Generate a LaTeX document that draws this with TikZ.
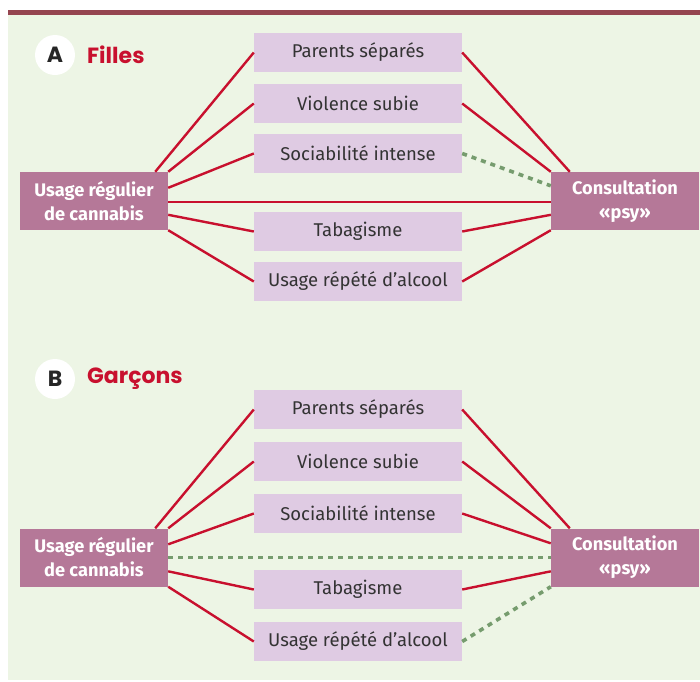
\documentclass[tikz,border=0pt]{standalone}
\usepackage{fontspec}
\setmainfont{Fira Sans}
\newfontfamily\headfont{Poppins}
\definecolor{bgreen}{HTML}{EDF5E5}
\definecolor{barred}{HTML}{954550}
\definecolor{lilac}{HTML}{DFCBE3}
\definecolor{mauve}{HTML}{B57898}
\definecolor{linered}{HTML}{C8102E}
\definecolor{dashgreen}{HTML}{769C6E}
\definecolor{txt}{HTML}{333333}
\definecolor{headred}{HTML}{C8102E}
\begin{document}
\begin{tikzpicture}[x=1pt,y=-1pt,
  midbox/.style={fill=lilac,draw=none,minimum width=208pt,minimum height=39pt,inner sep=0pt,font=\fontsize{18.5}{20}\selectfont,text=txt},
  sidebox/.style={fill=mauve,draw=none,minimum width=148pt,minimum height=58pt,inner sep=0pt,align=center,font=\fontsize{18.2}{24}\selectfont\bfseries,text=white},
  redline/.style={draw=linered,line width=2.4pt},
  greenline/.style={draw=dashgreen,line width=3.6pt,dash pattern=on 5pt off 5pt},
  badge/.style={circle,fill=white,minimum size=40pt,inner sep=0pt,font=\headfont\fontsize{22}{22}\selectfont\bfseries,text=black!85},
  heading/.style={anchor=west,inner sep=0pt,font=\headfont\fontsize{22}{22}\selectfont\bfseries,text=headred}]
\useasboundingbox (0,0) rectangle (700,681);
\fill[bgreen] (8,15) rectangle (700,680);
\fill[barred] (8,10) rectangle (700,15);
% ---------- Panel A ----------
\node[badge] (ba) at (55,55) {A};
\node[heading] (ha) at (87,55) {Filles};
\node[midbox] (a1) at (358,52.5) {Parents séparés};
\node[midbox] (a2) at (358,103.5) {Violence subie};
\node[midbox] (a3) at (358,153.5) {Sociabilité intense};
\node[midbox] (a4) at (358,231.5) {Tabagisme};
\node[midbox] (a5) at (358,281.5) {Usage répété d’alcool};
\node[sidebox] (al) at (94,201) {Usage régulier\\de cannabis};
\node[sidebox] (ar) at (625,201) {Consultation\\«psy»};
\draw[redline] ([xshift=-13pt]al.north east) -- (a1.west);
\draw[redline] (al.north east) -- (a2.west);
\draw[redline] ([yshift=-16pt]al.north east) -- (a3.west);
\draw[redline] ([yshift=-43pt]al.north east) -- (a4.west);
\draw[redline] (al.south east) -- (a5.west);
\draw[redline] ([yshift=-1pt]al.east) -- ([yshift=-1pt]ar.west);
\draw[redline] (a1.east) -- ([xshift=19pt]ar.north west);
\draw[redline] (a2.east) -- (ar.north west);
\draw[greenline] (a3.east) -- ([yshift=-14pt]ar.north west);
\draw[redline] (a4.east) -- ([yshift=-43pt]ar.north west);
\draw[redline] (a5.east) -- (ar.south west);
% ---------- Panel B ----------
\node[badge] (bb) at (55,379) {B};
\node[heading] (hb) at (87,379) {Garçons};
\node[midbox] (b1) at (358,409.5) {Parents séparés};
\node[midbox] (b2) at (358,461.5) {Violence subie};
\node[midbox] (b3) at (358,513.5) {Sociabilité intense};
\node[midbox] (b4) at (358,589.5) {Tabagisme};
\node[midbox] (b5) at (358,641.5) {Usage répété d’alcool};
\node[sidebox] (bl) at (94,557.5) {Usage régulier\\de cannabis};
\node[sidebox] (br) at (625,557.5) {Consultation\\«psy»};
\draw[redline] ([xshift=-13pt]bl.north east) -- (b1.west);
\draw[redline] (bl.north east) -- (b2.west);
\draw[redline] ([yshift=-16pt]bl.north east) -- (b3.west);
\draw[redline] ([yshift=-43pt]bl.north east) -- (b4.west);
\draw[redline] (bl.south east) -- (b5.west);
\draw[greenline] (bl.east) -- (br.west);
\draw[redline] (b1.east) -- ([xshift=19pt]br.north west);
\draw[redline] (b2.east) -- (br.north west);
\draw[redline] (b3.east) -- ([yshift=-15pt]br.north west);
\draw[redline] (b4.east) -- ([yshift=-43pt]br.north west);
\draw[greenline] (b5.east) -- (br.south west);
\end{tikzpicture}
\end{document}
